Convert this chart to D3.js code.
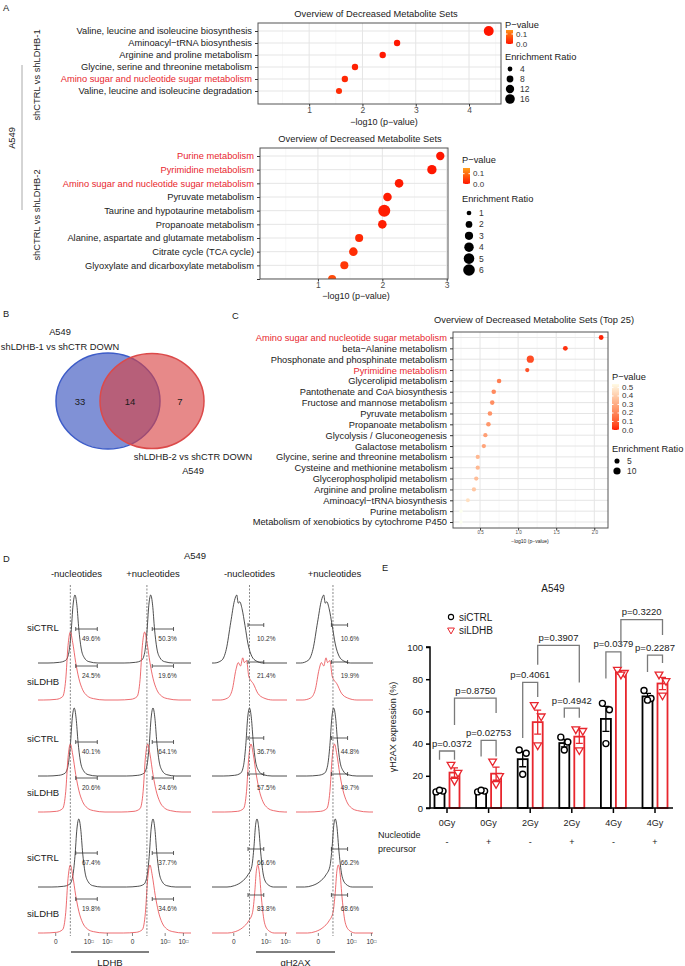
<!DOCTYPE html>
<html>
<head>
<meta charset="utf-8">
<script src="https://cdn.jsdelivr.net/npm/d3@7"></script>
<style>
  body { margin: 0; background: #fff; }
  svg { display: block; font-family: "Liberation Sans", Arial, sans-serif; }
</style>
</head>
<body>
<svg id="fig" width="685" height="966"></svg>
<script>
// ---------------- data ----------------
// A, top: shCTRL vs shLDHB-1
const aTopSets = [
  "Valine, leucine and isoleucine biosynthesis",
  "Aminoacyl−tRNA biosynthesis",
  "Arginine and proline metabolism",
  "Glycine, serine and threonine metabolism",
  "Amino sugar and nucleotide sugar metabolism",
  "Valine, leucine and isoleucine degradation",
];
const aTopLogP = [4.37, 2.65, 2.38, 1.86, 1.67, 1.56];
const aTopRatio = [17, 7, 7, 7, 7, 6.5];
const aTopRed = [4];
const aTopTicks = [1, 2, 3, 4];
const aTopSizeKeys = [4, 8, 12, 16];

// A, bottom: shCTRL vs shLDHB-2 (last row is cut off in the figure)
const aBotSets = [
  "Purine metabolism",
  "Pyrimidine metabolism",
  "Amino sugar and nucleotide sugar metabolism",
  "Pyruvate metabolism",
  "Taurine and hypotaurine metabolism",
  "Propanoate metabolism",
  "Alanine, aspartate and glutamate metabolism",
  "Citrate cycle (TCA cycle)",
  "Glyoxylate and dicarboxylate metabolism",
  "",
];
const aBotLogP = [2.9, 2.77, 2.26, 2.08, 2.03, 2.0, 1.64, 1.55, 1.41, 1.22];
const aBotRatio = [3.1, 3.9, 3.3, 3.3, 6.4, 3.3, 2.9, 3.3, 2.9, 2.9];
const aBotRed = [0, 1, 2];
const aBotTicks = [1, 2, 3];
const aBotSizeKeys = [1, 2, 3, 4, 5, 6];

// B: venn
const vennNames = ["shLDHB-1 vs shCTR DOWN", "shLDHB-2 vs shCTR DOWN"];
const vennCounts = [33, 14, 7];

// C: top 25
const cSets = [
  "Amino sugar and nucleotide sugar metabolism",
  "beta−Alanine metabolism",
  "Phosphonate and phosphinate metabolism",
  "Pyrimidine metabolism",
  "Glycerolipid metabolism",
  "Pantothenate and CoA biosynthesis",
  "Fructose and mannose metabolism",
  "Pyruvate metabolism",
  "Propanoate metabolism",
  "Glycolysis / Gluconeogenesis",
  "Galactose metabolism",
  "Glycine, serine and threonine metabolism",
  "Cysteine and methionine metabolism",
  "Glycerophospholipid metabolism",
  "Arginine and proline metabolism",
  "Aminoacyl−tRNA biosynthesis",
  "Purine metabolism",
  "Metabolism of xenobiotics by cytochrome P450",
];
const cLogP = [2.09, 1.62, 1.16, 1.12, 0.75, 0.68, 0.66, 0.63, 0.61, 0.57, 0.55, 0.47, 0.47, 0.45, 0.42, 0.34, 0.25, 0.25];
const cRatio = [4.5, 4.5, 10, 3.5, 4, 4, 4, 4, 4, 3.5, 3.5, 3.5, 3.5, 3.5, 3.5, 3, 2.5, 2.5];
const cRed = [0, 3];
const cTicks = [0.5, 1, 1.5, 2];
const cPLabels = [0.5, 0.4, 0.3, 0.2, 0.1, 0.0];
const cSizeKeys = [5, 10];

// D: flow histograms, rows = siCTRL/siLDHB x 3, cols = -/+ nucleotides
const dRows = ["siCTRL", "siLDHB", "siCTRL", "siLDHB", "siCTRL", "siLDHB"];
const dCols = ["-nucleotides", "+nucleotides"];
const ldhbPct = [["49.6%", "50.3%"], ["24.5%", "19.6%"], ["40.1%", "64.1%"],
                 ["20.6%", "24.6%"], ["67.4%", "37.7%"], ["19.8%", "34.6%"]];
const gh2axPct = [["10.2%", "10.6%"], ["21.4%", "19.9%"], ["36.7%", "44.8%"],
                  ["57.5%", "49.7%"], ["66.6%", "66.2%"], ["83.8%", "68.6%"]];
// [shape, peak position as fraction of the panel axis]
const ldhbHist = [
  [["narrow", 0.48], ["narrow", 0.47]],
  [["skewed", 0.42], ["skewed", 0.39]],
  [["narrow", 0.47], ["narrow", 0.5]],
  [["skewed", 0.42], ["skewed", 0.43]],
  [["narrow", 0.53], ["narrow", 0.5]],
  [["skewed", 0.42], ["skewed", 0.46]],
];
const gh2axHist = [
  [["broad", 0.33], ["broad", 0.36]],
  [["ragged", 0.41], ["ragged", 0.39]],
  [["narrow", 0.5], ["narrow", 0.49]],
  [["skewed", 0.52], ["skewed", 0.5]],
  [["leftTail", 0.6], ["leftTail", 0.51]],
  [["leftTail", 0.61], ["leftTail", 0.55]],
];
// shape profiles: [offset from peak, relative count]
const histShapes = {
  narrow: [[-0.35, 0], [-0.2, 0.01], [-0.12, 0.04], [-0.08, 0.15], [-0.05, 0.45], [-0.025, 0.85], [0, 1],
           [0.025, 0.85], [0.05, 0.5], [0.08, 0.22], [0.12, 0.08], [0.18, 0.02], [0.3, 0]],
  skewed: [[-0.35, 0], [-0.18, 0.01], [-0.1, 0.05], [-0.06, 0.3], [-0.03, 0.8], [0, 1], [0.03, 0.85],
           [0.07, 0.55], [0.11, 0.32], [0.16, 0.15], [0.22, 0.06], [0.3, 0.02], [0.45, 0]],
  broad: [[-0.3, 0], [-0.2, 0.04], [-0.14, 0.2], [-0.08, 0.6], [-0.03, 0.92], [0, 1], [0.02, 0.88],
          [0.04, 0.9], [0.07, 0.8], [0.11, 0.55], [0.15, 0.28], [0.2, 0.1], [0.26, 0.03], [0.35, 0]],
  ragged: [[-0.3, 0], [-0.2, 0.03], [-0.14, 0.15], [-0.09, 0.45], [-0.06, 0.55], [-0.03, 0.5],
           [0, 0.62], [0.02, 0.55], [0.05, 0.58], [0.08, 0.35], [0.1, 0.3], [0.14, 0.24], [0.2, 0.1],
           [0.28, 0.03], [0.4, 0]],
  leftTail: [[-0.4, 0], [-0.3, 0.02], [-0.2, 0.08], [-0.12, 0.18], [-0.07, 0.3], [-0.04, 0.6],
             [-0.02, 0.9], [0, 1], [0.02, 0.9], [0.05, 0.5], [0.09, 0.15], [0.14, 0.04], [0.22, 0]],
};

// E: yH2AX expression
const eDose = ["0Gy", "0Gy", "2Gy", "2Gy", "4Gy", "4Gy"];
const ePrecursor = ["-", "+", "-", "+", "-", "+"];
const eCtrl = [[10, 10.5, 11], [10, 10.5, 11], [36, 34, 21], [44, 41, 36], [65, 61, 40], [73, 68, 67]];
const eLdhb = [[27, 22, 17], [29, 20, 15], [64, 57, 39], [49, 48, 36], [86, 84, 83], [83, 79, 70]];
// [group a, series a, group b, series b, top, leg a end, leg b end, label]
const eBrackets = [
  [0, 0, 0, 1, 35.4, 30, 30, "p=0.0372"],
  [1, 0, 1, 1, 42, 32, 32, "p=0.02753"],
  [0, 1, 1, 1, 68.3, 51.6, 59, "p=0.8750"],
  [2, 0, 2, 1, 78, 43.5, 69, "p=0.4061"],
  [2, 1, 3, 1, 101, 89, 78, "p=0.3907"],
  [3, 0, 3, 1, 62, 56, 56, "p=0.4942"],
  [4, 0, 4, 1, 97, 80.5, 87.6, "p=0.0379"],
  [5, 0, 5, 1, 95, 84.5, 90, "p=0.2287"],
  [4, 1, 5, 1, 117, 101, 107.5, "p=0.3220"],
];
const eTicks = [0, 20, 40, 60, 80, 100];

// ---------------- helpers ----------------
const svg = d3.select("#fig");
const defs = svg.append("defs");
const INK = "#1a1a1a";
const RED = "#e8262e";
const LABEL = 9.3;

function txt(g, x, y, s, o = {}) {
  return g.append("text")
    .attr("x", x).attr("y", y)
    .attr("font-size", o.size || LABEL)
    .attr("fill", o.fill || INK)
    .attr("text-anchor", o.anchor || "start")
    .attr("dominant-baseline", "central")
    .attr("transform", o.rotate ? `rotate(${o.rotate},${x},${y})` : null)
    .text(s);
}

const pColorA = d3.scaleLinear().domain([0, 0.15]).range(["#ff1500", "#ff9a1a"]);
const pColorC = d3.scaleLinear().domain([0, 0.54]).range(["#ff1a00", "#fffbe6"]).interpolate(d3.interpolateLab);

function colorLegend(id, x, yTop, yBot, pTop, labels, color) {
  const g = svg.append("g");
  const grad = defs.append("linearGradient").attr("id", id)
    .attr("x1", 0).attr("y1", 1).attr("x2", 0).attr("y2", 0);
  d3.range(0, 1.001, 0.1).forEach((t) =>
    grad.append("stop").attr("offset", t).attr("stop-color", color(t * pTop)));
  g.append("rect").attr("x", x).attr("y", yTop).attr("width", 7).attr("height", yBot - yTop)
    .attr("fill", `url(#${id})`);
  const s = d3.scaleLinear().domain([0, pTop]).range([yBot, yTop]);
  labels.forEach((v) => {
    g.append("line").attr("x1", x).attr("x2", x + 1.5).attr("y1", s(v)).attr("y2", s(v)).attr("stroke", "#fff");
    g.append("line").attr("x1", x + 5.5).attr("x2", x + 7).attr("y1", s(v)).attr("y2", s(v)).attr("stroke", "#fff");
    txt(g, x + 10, s(v), v.toFixed(1), { size: 8, fill: "#333" });
  });
}

function sizeLegend(x, yRange, keys, r) {
  const g = svg.append("g");
  const y = d3.scalePoint().domain(keys).range(yRange);
  g.selectAll("circle").data(keys).join("circle")
    .attr("cx", x).attr("cy", (d) => y(d)).attr("r", (d) => r(d)).attr("fill", "#000");
  keys.forEach((k) => txt(g, x + 10, y(k), k, { size: 8.5, fill: "#333" }));
}

// ggplot-like dot plot
function dotPlot(cfg) {
  const { id, box, sets, logP, ratio, red, xDomain, ticks, minor, r, color, rows, tickFmt, tickSize } = cfg;
  const g = svg.append("g");
  const x = d3.scaleLinear().domain(xDomain).range([box.x0, box.x1]);
  const y = d3.scalePoint().domain(d3.range(sets.length)).range(rows);

  defs.append("clipPath").attr("id", id).append("rect")
    .attr("x", box.x0).attr("y", box.y0).attr("width", box.x1 - box.x0).attr("height", box.y1 - box.y0);
  const inner = g.append("g").attr("clip-path", `url(#${id})`);

  inner.selectAll(".minor").data(minor).join("line")
    .attr("x1", x).attr("x2", x).attr("y1", box.y0).attr("y2", box.y1)
    .attr("stroke", "#f3f3f3").attr("stroke-width", 0.6);
  inner.selectAll(".vmaj").data(ticks).join("line")
    .attr("x1", x).attr("x2", x).attr("y1", box.y0).attr("y2", box.y1)
    .attr("stroke", "#e5e5e5").attr("stroke-width", 1);
  inner.selectAll(".hmaj").data(d3.range(sets.length)).join("line")
    .attr("x1", box.x0).attr("x2", box.x1).attr("y1", y).attr("y2", y)
    .attr("stroke", "#e5e5e5").attr("stroke-width", 1);
  inner.selectAll("circle").data(d3.range(sets.length)).join("circle")
    .attr("cx", (i) => x(logP[i])).attr("cy", (i) => y(i)).attr("r", (i) => r(ratio[i]))
    .attr("fill", (i) => color(Math.pow(10, -logP[i])));

  g.append("rect").attr("x", box.x0).attr("y", box.y0)
    .attr("width", box.x1 - box.x0).attr("height", box.y1 - box.y0)
    .attr("fill", "none").attr("stroke", "#555").attr("stroke-width", 1);

  const ya = g.append("g").attr("transform", `translate(${box.x0},0)`)
    .call(d3.axisLeft(y).tickSize(3).tickFormat((i) => sets[i]));
  ya.select(".domain").remove();
  ya.attr("font-family", null);
  ya.selectAll("line").attr("stroke", "#333");
  ya.selectAll("text").attr("font-size", LABEL).attr("fill", (i) => (red.includes(i) ? RED : INK));

  const xa = g.append("g").attr("transform", `translate(0,${box.y1})`)
    .call(d3.axisBottom(x).tickValues(ticks).tickSize(2.5).tickFormat(tickFmt));
  xa.select(".domain").remove();
  xa.attr("font-family", null);
  xa.selectAll("line").attr("stroke", "#333");
  xa.selectAll("text").attr("font-size", tickSize).attr("fill", "#4d4d4d").attr("y", 3).attr("dy", "0.71em");

  txt(g, cfg.title[0], cfg.title[1], cfg.title[2], { anchor: "middle" });
  txt(g, cfg.xLabel[0], cfg.xLabel[1], "−log10 (p−value)", { anchor: "middle", size: cfg.xLabel[2] });
}

// ---------------- panel A ----------------
const labels = svg.append("g");
txt(labels, 3, 8, "A");
txt(labels, 3, 314, "B");
txt(labels, 232, 316, "C");
txt(labels, 3, 559, "D");
txt(labels, 382, 568, "E");

const side = svg.append("g");
side.append("line").attr("x1", 22).attr("x2", 22).attr("y1", 65).attr("y2", 210)
  .attr("stroke", "#aaa").attr("stroke-width", 1);
txt(side, 12, 138, "A549", { anchor: "middle", rotate: -90 });
txt(side, 37, 75, "shCTRL vs shLDHB-1", { anchor: "middle", rotate: -90 });
txt(side, 37, 215, "shCTRL vs shLDHB-2", { anchor: "middle", rotate: -90 });

const rTop = d3.scaleSqrt().domain([0, 16]).range([0, 4.8]);
dotPlot({
  id: "clipA1", box: { x0: 258, x1: 501, y0: 23, y1: 104 },
  sets: aTopSets, logP: aTopLogP, ratio: aTopRatio, red: aTopRed,
  xDomain: [0.04, 4.6], ticks: aTopTicks, minor: [0.5, 1.5, 2.5, 3.5, 4.5],
  r: rTop, color: pColorA, rows: [31, 91], tickFmt: d3.format("d"), tickSize: 8.5,
  title: [376, 14, "Overview of Decreased Metabolite Sets"], xLabel: [384, 122, 9],
});
txt(svg, 505, 25, "P−value");
colorLegend("gA1", 506, 30, 44, 0.14, [0.1, 0.0], pColorA);
txt(svg, 505, 57, "Enrichment Ratio");
sizeLegend(510, [69, 99], aTopSizeKeys, rTop);

const rBot = d3.scaleSqrt().domain([0, 6]).range([0, 5.8]);
dotPlot({
  id: "clipA2", box: { x0: 260, x1: 448, y0: 148, y1: 279 },
  sets: aBotSets, logP: aBotLogP, ratio: aBotRatio, red: aBotRed,
  xDomain: [0.1, 3.02], ticks: aBotTicks, minor: [0.5, 1.5, 2.5],
  r: rBot, color: pColorA, rows: [156, 279], tickFmt: d3.format("d"), tickSize: 8.5,
  title: [360, 139, "Overview of Decreased Metabolite Sets"], xLabel: [356, 296, 9],
});
txt(svg, 462, 160, "P−value");
colorLegend("gA2", 463, 168, 184, 0.155, [0.1, 0.0], pColorA);
txt(svg, 462, 199, "Enrichment Ratio");
sizeLegend(469, [213, 270], aBotSizeKeys, rBot);

// ---------------- panel B ----------------
const venn = svg.append("g");
txt(venn, 60, 332, "A549", { anchor: "middle" });
txt(venn, 60, 347, vennNames[0], { anchor: "middle" });
venn.append("ellipse").attr("cx", 108).attr("cy", 401).attr("rx", 52).attr("ry", 48)
  .attr("fill", "#4a63c4").attr("fill-opacity", 0.7).attr("stroke", "#3d5cc8").attr("stroke-width", 1.5);
venn.append("ellipse").attr("cx", 152).attr("cy", 401).attr("rx", 52).attr("ry", 47.5)
  .attr("fill", "#d94040").attr("fill-opacity", 0.62).attr("stroke", "#dc4a4a").attr("stroke-width", 1.5);
[80, 130, 180].forEach((cx, i) => txt(venn, cx, 401, vennCounts[i], { anchor: "middle", size: 9.5 }));
txt(venn, 193, 457, vennNames[1], { anchor: "middle" });
txt(venn, 193, 471, "A549", { anchor: "middle" });

// ---------------- panel C ----------------
const rC = d3.scaleSqrt().domain([0, 10]).range([0, 3.6]);
dotPlot({
  id: "clipC", box: { x0: 453, x1: 608, y0: 332, y1: 528 },
  sets: cSets, logP: cLogP, ratio: cRatio, red: cRed,
  xDomain: [0.145, 2.18], ticks: cTicks, minor: [0.25, 0.75, 1.25, 1.75],
  r: rC, color: pColorC, rows: [337.5, 522], tickFmt: d3.format(".1f"), tickSize: 4.5,
  title: [534, 320, "Overview of Decreased Metabolite Sets (Top 25)"], xLabel: [530, 541, 5],
});
txt(svg, 612, 377, "P−value");
colorLegend("gC", 612, 384, 430, 0.54, cPLabels, pColorC);
txt(svg, 612, 449, "Enrichment Ratio");
sizeLegend(617, [461, 471], cSizeKeys, rC);

// ---------------- panel D ----------------
const dG = svg.append("g");
txt(dG, 195, 555, "A549", { anchor: "middle", size: 9.5 });
const rowBase = [663, 700, 776, 812, 887, 933];
const histH = 68;
const flowLine = d3.line().curve(d3.curveMonotoneX);
const markers = [
  { name: "LDHB", cols: [[38, 115], [115, 191]], gate: [0.42, 0.42], hist: ldhbHist, pct: ldhbPct,
    bar: [0.07, 0.35], barDy: -34, labelDx: 0.15, ticks: [0.23, 0.66, 0.9], under: [71, 149] },
  { name: "gH2AX", cols: [[212, 287], [296, 373]], gate: [0.5, 0.48], hist: gh2axHist, pct: gh2axPct,
    bar: [-0.02, 0.19], barDy: -38, labelDx: 0.1, ticks: [0.29, 0.72, 0.98], under: [256, 335] },
];

dRows.forEach((r, i) => txt(dG, 27, [627, 681, 738, 792, 857, 913][i], r, { size: 9.5 }));

markers.forEach((m) => {
  m.cols.forEach(([x0, x1], c) => {
    const x = d3.scaleLinear().domain([0, 1]).range([x0, x1]);
    txt(dG, (x0 + x1) / 2, 573, dCols[c], { anchor: "middle", size: 9.5 });
    const gx = x(m.gate[c]);

    dRows.forEach((row, i) => {
      const [shape, peak] = m.hist[i][c];
      const base = rowBase[i];
      const pts = histShapes[shape]
        .map(([dx, v]) => [peak + dx, v])
        .filter((p) => p[0] > 0.005 && p[0] < 0.995);
      const all = [[0, 0], ...pts, [1, 0]].map(([f, v]) => [x(f), base - v * histH]);
      dG.append("path").attr("d", flowLine(all)).attr("fill", "none")
        .attr("stroke", row === "siCTRL" ? "#222" : "#e8464b").attr("stroke-width", 0.8);

      // gate marker
      const by = base + m.barDy;
      const bx0 = x(m.gate[c] + m.bar[0]);
      const bx1 = x(m.gate[c] + m.bar[1]);
      dG.append("path")
        .attr("d", `M${bx0},${by - 2}V${by + 2}M${bx0},${by}H${bx1}M${bx1},${by - 2}V${by + 2}`)
        .attr("stroke", "#333").attr("stroke-width", 0.8).attr("fill", "none");
      txt(dG, x(m.gate[c] + m.labelDx), base - 25, m.pct[i][c], { size: 6.5, fill: "#333" });
    });

    dG.append("line").attr("x1", gx).attr("x2", gx).attr("y1", 585).attr("y2", 936)
      .attr("stroke", "#555").attr("stroke-width", 0.7).attr("stroke-dasharray", "2,1.5");

    // logicle-like axis
    m.ticks.forEach((t, k) => {
      dG.append("line").attr("x1", x(t)).attr("x2", x(t)).attr("y1", 933).attr("y2", 936)
        .attr("stroke", "#333").attr("stroke-width", 0.6);
      const tl = dG.append("text").attr("x", x(t)).attr("y", 944).attr("text-anchor", "middle")
        .attr("font-size", 6.5).attr("fill", "#333").text(k === 0 ? "0" : "10");
      if (k > 0) tl.append("tspan").attr("font-size", 4.5).attr("dy", -1).text("\u25A1");
    });
  });
  dG.append("line").attr("x1", m.under[0]).attr("x2", m.under[1]).attr("y1", 952).attr("y2", 952)
    .attr("stroke", "#000").attr("stroke-width", 1);
  txt(dG, (m.under[0] + m.under[1]) / 2, 962, m.name, { anchor: "middle", size: 9.5 });
});

// ---------------- panel E ----------------
const eG = svg.append("g");
const yE = d3.scaleLinear().domain([0, 100]).range([808, 647]);
const xE = d3.scalePoint().domain(d3.range(eDose.length)).range([447, 655]);
const series = [
  { vals: eCtrl, color: "#000", dx: -7.5 },
  { vals: eLdhb, color: RED, dx: 7.5 },
];
const barW = 10;
const jitter = [-3.5, 3.5, 0];
const sx = (gi, si) => xE(gi) + series[si].dx;

txt(eG, 553, 588, "A549", { anchor: "middle", size: 10 });
eG.append("circle").attr("cx", 451).attr("cy", 617).attr("r", 2.6).attr("fill", "none")
  .attr("stroke", "#000").attr("stroke-width", 1.1);
txt(eG, 459, 617, "siCTRL", { size: 10 });
eG.append("path").attr("d", d3.symbol(d3.symbolTriangle, 20)())
  .attr("transform", "translate(451,630) rotate(180)")
  .attr("fill", "none").attr("stroke", RED).attr("stroke-width", 1);
txt(eG, 459, 630, "siLDHB", { size: 10 });

series.forEach((s, si) => {
  s.vals.forEach((pts, gi) => {
    const mean = d3.mean(pts);
    const sem = d3.deviation(pts) / Math.sqrt(pts.length);
    const cx = sx(gi, si);
    eG.append("rect").attr("x", cx - barW / 2).attr("y", yE(mean))
      .attr("width", barW).attr("height", yE(0) - yE(mean))
      .attr("fill", "#fff").attr("stroke", s.color).attr("stroke-width", 1.8);
    eG.append("path")
      .attr("d", `M${cx},${yE(mean - sem)}V${yE(mean + sem)}M${cx - 3.5},${yE(mean + sem)}H${cx + 3.5}M${cx - 3.5},${yE(mean - sem)}H${cx + 3.5}`)
      .attr("stroke", s.color).attr("stroke-width", 1.3).attr("fill", "none");
    pts.forEach((v, k) => {
      if (si === 0) {
        eG.append("circle").attr("cx", cx + jitter[k]).attr("cy", yE(v)).attr("r", 3)
          .attr("fill", "#fff").attr("stroke", "#000").attr("stroke-width", 1.4);
      } else {
        eG.append("path").attr("d", d3.symbol(d3.symbolTriangle, 26)())
          .attr("transform", `translate(${cx + jitter[k]},${yE(v)}) rotate(180)`)
          .attr("fill", "#fff").attr("stroke", RED).attr("stroke-width", 1.3);
      }
    });
  });
});

const yAx = eG.append("g").attr("transform", "translate(430,0)")
  .call(d3.axisLeft(yE).tickValues(eTicks).tickSize(4));
yAx.attr("font-family", null);
yAx.selectAll("path,line").attr("stroke", "#000").attr("stroke-width", 1.5);
yAx.select(".domain").attr("d", `M-4,${yE(100)}H0V${yE(0)}H-4`);
yAx.selectAll("text").attr("font-size", 9.5).attr("fill", INK);
txt(eG, 393, 727, "γH2AX expression (%)", { anchor: "middle", rotate: -90, size: 9 });

eG.append("line").attr("x1", 430).attr("x2", 673).attr("y1", yE(0)).attr("y2", yE(0))
  .attr("stroke", "#000").attr("stroke-width", 1.5);
eDose.forEach((d, i) => {
  eG.append("line").attr("x1", xE(i)).attr("x2", xE(i)).attr("y1", yE(0)).attr("y2", yE(0) + 5)
    .attr("stroke", "#000").attr("stroke-width", 1.5);
  txt(eG, xE(i), 823, d, { anchor: "middle", size: 9 });
  txt(eG, xE(i), 842, ePrecursor[i], { anchor: "middle", size: 9 });
});
txt(eG, 378, 835, "Nucleotide", { size: 9 });
txt(eG, 378, 849, "precursor", { size: 9 });

eBrackets.forEach(([ga, sa, gb, sb, top, ea, eb, label]) => {
  const xa = sx(ga, sa);
  const xb = sx(gb, sb);
  eG.append("path").attr("d", `M${xa},${yE(ea)}V${yE(top)}H${xb}V${yE(eb)}`)
    .attr("fill", "none").attr("stroke", "#7a7a7a").attr("stroke-width", 1.3);
  const t = txt(eG, (xa + xb) / 2, yE(top) - 8, label, { anchor: "middle", size: 9.5 });
  // keep labels clear of the y axis
  const w = t.node().getComputedTextLength();
  const cx = Math.max((xa + xb) / 2, 432 + w / 2);
  t.attr("x", cx);
});
</script>
</body>
</html>
